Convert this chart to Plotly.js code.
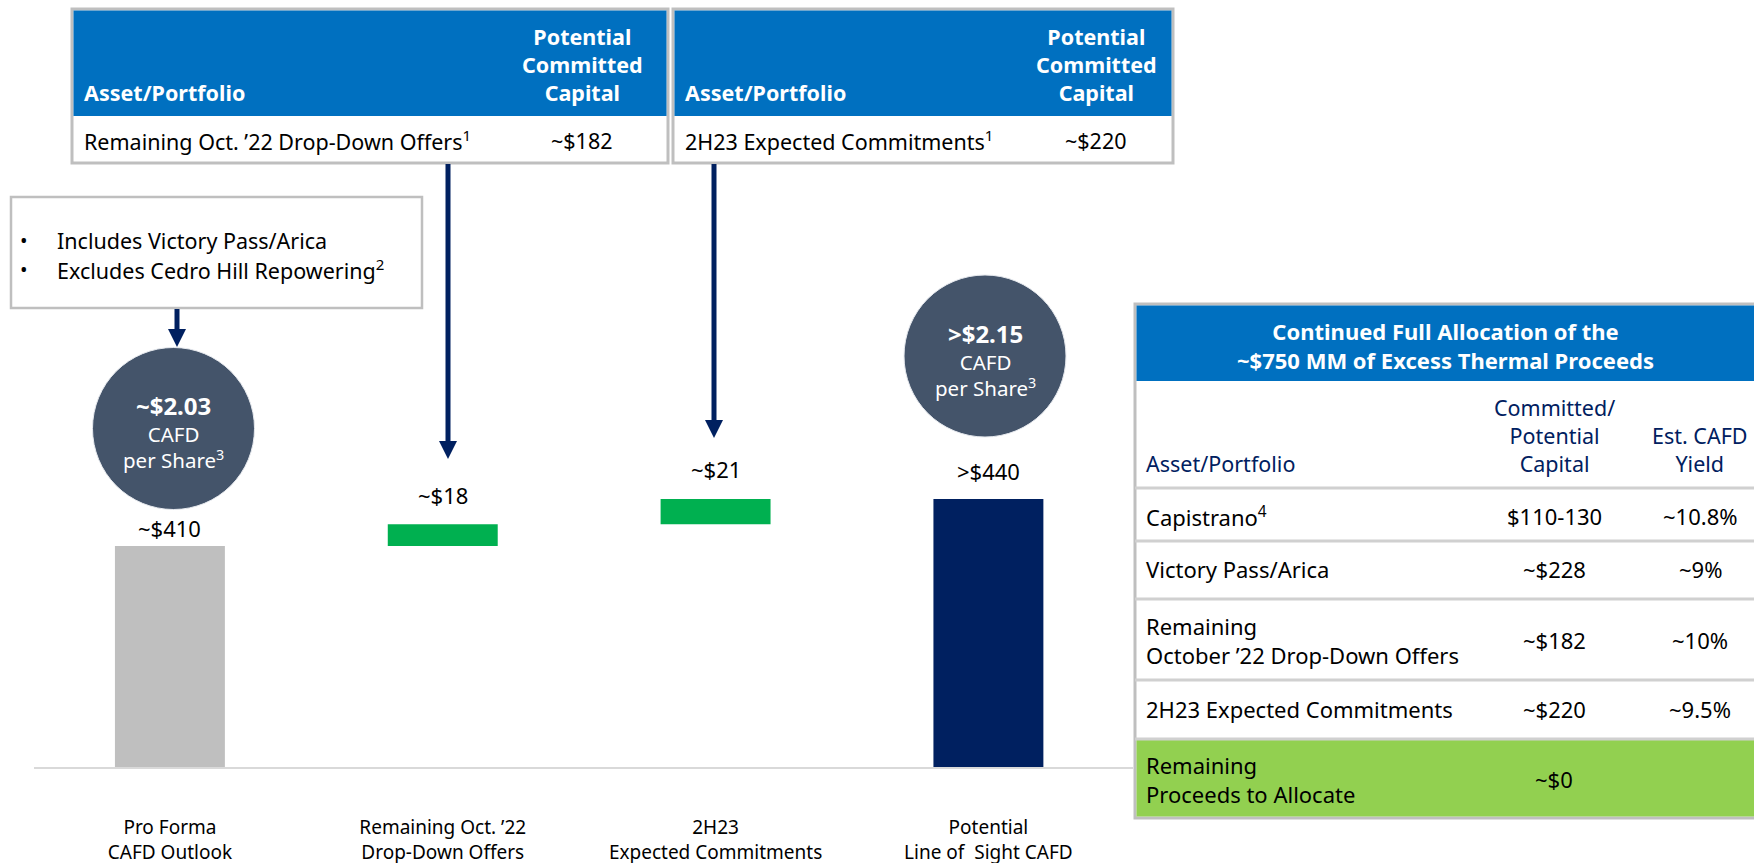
<!DOCTYPE html>
<html><head><meta charset="utf-8">
<script src="https://cdn.plot.ly/plotly-3.0.1.min.js"></script>
<style>html,body{margin:0;padding:0;background:#fff;}#chart{width:1754px;height:863px;}</style>
</head><body><div id="chart"></div>
<script>
// ---------------- data ----------------
const categories = ['Pro Forma<br>CAFD Outlook', 'Remaining Oct. \u201922<br>Drop-Down Offers', '2H23<br>Expected Commitments', 'Potential<br>Line of\u00a0 Sight CAFD'];
const measures = ['absolute', 'relative', 'relative', 'total'];
const drawnValues = [410, 14, 16, null];          // bar extents as drawn ($MM)
const valueLabels = ['~$410', '~$18', '~$21', '>$440'];
const barColors = ['#bfbfbf', '#00b050', '#00b050', '#002060'];

const topTableAssets = ['Remaining Oct. \u201922 Drop-Down Offers<sup>1</sup>', '2H23 Expected Commitments<sup>1</sup>'];
const topTableCapital = ['~$182', '~$220'];
const bulletNotes = ['Includes Victory Pass/Arica', 'Excludes Cedro Hill Repowering<sup>2</sup>'];
const cafdPerShare = ['~$2.03', '>$2.15'];

const allocTitle = 'Continued Full Allocation of the<br>~$750 MM of Excess Thermal Proceeds';
const allocHeaders = ['Asset/Portfolio', 'Committed/<br>Potential<br>Capital', 'Est. CAFD<br>Yield'];
const allocAssets = ['Capistrano<sup>4</sup>', 'Victory Pass/Arica', 'Remaining<br>October \u201922 Drop-Down Offers', '2H23 Expected Commitments', 'Remaining<br>Proceeds to Allocate'];
const allocCapital = ['$110-130', '~$228', '~$182', '~$220', '~$0'];
const allocYield = ['~10.8%', '~9%', '~10%', '~9.5%', ''];

// ---------------- build bars ----------------
const bases = [], heights = [], tops = [];
let running = 0;
measures.forEach((m, i) => {
  if (m === 'absolute') { bases.push(0); heights.push(drawnValues[i]); running = drawnValues[i]; }
  else if (m === 'relative') { bases.push(running); heights.push(drawnValues[i]); running += drawnValues[i]; }
  else { bases.push(0); heights.push(running); }
  tops.push(bases[i] + heights[i]);
});
const xs = categories.map((c, i) => i);

const W = 1754, H = 863;
const F = '"Noto Sans", "Open Sans", sans-serif';
const X = p => p / W, Y = p => 1 - p / H;
const NAVY = '#002060', BLUE = '#0070c0', GRAY = '#bfbfbf', SLATE = '#44546a';

const shapes = [];
const ann = [];
function rect(x0, y0, x1, y1, fill, line, lw) {
  shapes.push({type: 'rect', xref: 'paper', yref: 'paper', x0: X(x0), x1: X(x1), y0: Y(y0), y1: Y(y1),
    fillcolor: fill, line: {color: line || 'rgba(0,0,0,0)', width: lw || 0}, layer: 'above'});
}
function hline(x0, x1, y, color, w) {
  shapes.push({type: 'line', xref: 'paper', yref: 'paper', x0: X(x0), x1: X(x1), y0: Y(y), y1: Y(y), line: {color, width: w}, layer: 'above'});
}
function arrow(x, y0, tip) {
  shapes.push({type: 'line', xref: 'paper', yref: 'paper', x0: X(x), x1: X(x), y0: Y(y0), y1: Y(tip - 14), line: {color: NAVY, width: 5}, layer: 'above'});
  shapes.push({type: 'path', xref: 'paper', yref: 'paper', path: `M ${X(x - 9)} ${Y(tip - 18)} L ${X(x + 9)} ${Y(tip - 18)} L ${X(x)} ${Y(tip)} Z`,
    fillcolor: NAVY, line: {color: NAVY, width: 0}, layer: 'above'});
}
function circle(cx, cy, r) {
  shapes.push({type: 'circle', xref: 'paper', yref: 'paper', x0: X(cx - r), x1: X(cx + r), y0: Y(cy + r), y1: Y(cy - r),
    fillcolor: SLATE, line: {color: '#e6e9ee', width: 1}, layer: 'above'});
}
function txt(text, x, y, o) {
  o = o || {};
  ann.push({xref: 'paper', yref: 'paper', x: X(x), y: Y(y), text, showarrow: false,
    xanchor: o.xa || 'center', yanchor: 'middle', align: o.align || (o.xa === 'left' ? 'left' : 'center'),
    font: {family: F, size: o.size || 21, color: o.color || '#000'}});
}

// ---- top tables ----
const topTables = [{x0: 72, x1: 668, textX: 82, capX: 582}, {x0: 673, x1: 1173, textX: 683, capX: 1096}];
topTables.forEach((t, i) => {
  rect(t.x0, 9, t.x1, 163, '#ffffff', GRAY, 3);
  rect(t.x0 + 1.5, 10.5, t.x1 - 1.5, 116, BLUE);
  txt('<b>Asset/Portfolio</b>', t.textX, 93, {xa: 'left', color: '#fff', size: 21.5});
  txt('<b>Potential<br>Committed<br>Capital</b>', t.capX, 64.5, {color: '#fff', size: 21.5});
  txt(topTableAssets[i], t.textX, 140, {xa: 'left', size: 21.5});
  txt(topTableCapital[i], t.capX, 140, {size: 21.5});
});

// ---- bullet box ----
rect(11, 197, 422, 308, '#ffffff', GRAY, 2.5);
bulletNotes.forEach((b, i) => {
  txt('\u2022', 24, 240 + i * 30, {size: 20});
  txt(b, 55, 240 + i * 30, {xa: 'left', size: 21.5});
});

// ---- arrows ----
arrow(177, 309, 347);
arrow(448, 164, 459);
arrow(714, 164, 438);

// ---- circles ----
const circles = [{cx: 173.5, cy: 428.5}, {cx: 985, cy: 356}];
circles.forEach((c, i) => {
  circle(c.cx, c.cy, 81);
  txt('<span style="font-size:24px"><b>' + cafdPerShare[i] + '</b></span><br>CAFD<br>per Share<sup>3</sup>',
      c.cx, c.cy + 3, {color: '#fff', size: 20.5});
});

// ---- right allocation table ----
const RX0 = 1135, RX1 = 1762;
const rowLines = [488, 541, 599, 680, 739];
rect(RX0, 304, RX1, 818, '#ffffff', GRAY, 3);
rect(RX0 + 1.5, 305.5, RX1, 381, BLUE);
rect(RX0 + 1.5, 739, RX1, 816.5, '#92d050');
rowLines.forEach(y => hline(RX0, RX1, y, '#d0d0d0', 3));
txt('<b>' + allocTitle + '</b>', 1445, 346, {color: '#fff', size: 22});
txt(allocHeaders[0], 1144, 463, {xa: 'left', color: NAVY, size: 21.5});
txt(allocHeaders[1], 1554, 435, {color: NAVY, size: 21.5});
txt(allocHeaders[2], 1700, 449, {color: NAVY, size: 21.5});
const rowCenters = [516, 569, 640, 709, 779];
allocAssets.forEach((a, i) => {
  txt(a, 1144, rowCenters[i], {xa: 'left', size: 22});
  txt(allocCapital[i], 1554, rowCenters[i], {size: 22});
  if (allocYield[i]) txt(allocYield[i], 1700, rowCenters[i], {size: 22});
});

// ---- value labels above bars ----
const labelShift = [1, 12, 13, 11];
valueLabels.forEach((l, i) => {
  ann.push({xref: 'x', yref: 'y', x: xs[i], y: tops[i], text: l, showarrow: false, xanchor: 'center', yanchor: 'bottom',
    yshift: labelShift[i], font: {family: F, size: 22, color: '#000'}});
});

const trace = {
  type: 'bar', x: xs, y: heights, base: bases, width: 0.403,
  marker: {color: barColors, line: {width: 0}}, hoverinfo: 'skip', showlegend: false
};

const layout = {
  width: W, height: H, margin: {l: 0, r: 0, t: 0, b: 0},
  paper_bgcolor: '#fff', plot_bgcolor: '#fff', showlegend: false,
  xaxis: {domain: [33.5 / W, 1133 / W], range: [-0.5, 3.53], tickvals: xs, ticktext: categories,
    showline: true, linecolor: '#d9d9d9', linewidth: 2, showgrid: false, zeroline: false, ticks: '',
    tickfont: {family: F, size: 19, color: '#000'}, ticklabelstandoff: 42, fixedrange: true},
  yaxis: {domain: [(H - 767) / H, 1], range: [269, 758.5], visible: false, fixedrange: true},
  shapes, annotations: ann
};
Plotly.newPlot('chart', [trace], layout, {displayModeBar: false, staticPlot: true});
</script></body></html>
